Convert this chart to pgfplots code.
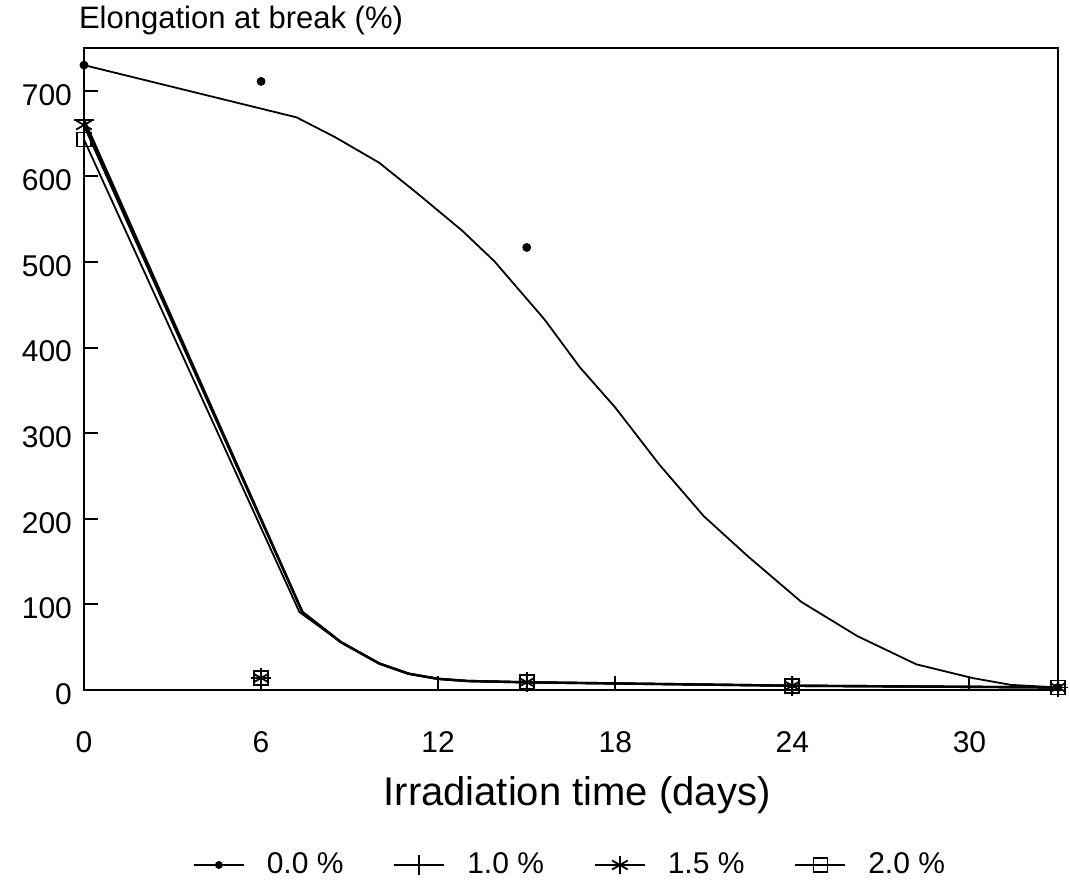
\documentclass[border=0pt]{standalone}
\usepackage{fontspec}
\setmainfont{Liberation Sans}
\usepackage{pgfplots}
\pgfplotsset{compat=1.18}
\begin{document}
\begin{tikzpicture}
\path[use as bounding box] (-42pt,-101.5pt) rectangle (493pt,345pt);
\begin{axis}[
  at={(0pt,0pt)}, anchor=south west,
  scale only axis, width=487pt, height=321pt,
  xmin=0, xmax=33, ymin=0, ymax=750,
  xtick={0,6,...,30}, ytick={0,100,...,700},
  tick align=inside, major tick length=7pt,
  xtick pos=left, ytick pos=left,
  axis line style={line width=1pt},
  tick style={line width=1pt, black},
  /pgf/number format/assume math mode=true,
  tick label style={font=\fontsize{15}{18}\selectfont},
  xticklabel style={yshift=-17pt},
  yticklabel style={xshift=-2.5pt, yshift=-2pt},
  xlabel={Irradiation time (days)},
  xlabel style={font=\fontsize{20}{24}\selectfont, at={(axis description cs:0.5,0)}, anchor=base, yshift=-57.5pt, xshift=3pt},
  title={Elongation at break (\%)},
  title style={font=\fontsize{15.5}{18}\selectfont, at={(axis description cs:0,1)}, anchor=base west, xshift=-6pt, yshift=4pt},
  legend columns=4,
  legend style={at={(axis description cs:0.5,0)}, anchor=center, yshift=-87.5pt, draw=none, fill=none,
    font=\fontsize{15}{18}\selectfont,
    /tikz/every odd column/.append style={column sep=9pt},
    /tikz/every even column/.append style={column sep=23pt}},
  legend image code/.code={\draw[mark repeat=2,mark phase=2,#1] plot coordinates {(0pt,0pt) (12.5pt,0pt) (25pt,0pt)};},
  clip=false,
]
\addlegendimage{black, line width=0.9pt, mark=*, mark size=1.5pt}
\addlegendentry{0.0 \%}
\addlegendimage{black, line width=0.9pt, mark=+, mark size=5pt}
\addlegendentry{1.0 \%}
\addlegendimage{black, line width=0.9pt, mark=asterisk, mark size=4.5pt}
\addlegendentry{1.5 \%}
\addlegendimage{black, line width=0.9pt, mark=square, mark size=3.5pt}
\addlegendentry{2.0 \%}

% 0.0 % fitted curve
\addplot[forget plot, black, line width=0.9pt] coordinates {
(0,730) (7.2,669) (8.5,646) (10.0,616) (11.3,580) (12.8,537) (13.9,501)
(14.8,465) (15.6,433) (16.8,377) (18.0,330) (19.5,263) (21.0,203)
(22.5,156) (24.3,103) (26.2,63) (28.2,30) (30.1,14) (31.4,6) (33,3)};
% 1.0 % fitted curve
\addplot[forget plot, black, line width=1.2pt] coordinates {
(0,666) (7.4,91) (8.7,56) (10,31) (11,19) (12,13) (13,10.5) (15,9) (24,5) (33,3)};
% 1.5 % fitted curve
\addplot[forget plot, black, line width=1.2pt] coordinates {
(0,660) (7.4,91) (8.7,56) (10,31) (11,19) (12,13) (13,10.5) (15,9) (24,5) (33,3)};
% 2.0 % fitted curve
\addplot[forget plot, black, line width=0.9pt] coordinates {
(0,643) (7.3,91) (8.7,56) (10,31) (11,19) (12,13) (13,10.5) (15,9) (24,5) (33,3)};

% measured points
\addplot[forget plot, only marks, black, mark=*, mark size=2pt] coordinates {
(0,730) (6,711) (15,517) (33,3)};
\addplot[forget plot, only marks, black, line width=0.9pt, mark=+, mark size=5pt] coordinates {
(0,666) (6,14) (15,9) (24,5) (33,3)};
\addplot[forget plot, only marks, black, line width=0.9pt, mark=asterisk, mark size=4.5pt] coordinates {
(0,660) (6,14) (15,9) (24,5) (33,3)};
\addplot[forget plot, only marks, black, line width=0.9pt, mark=square, mark size=3.5pt] coordinates {
(0,643) (6,14) (15,9) (24,5) (33,3)};
\end{axis}
\end{tikzpicture}
\end{document}
